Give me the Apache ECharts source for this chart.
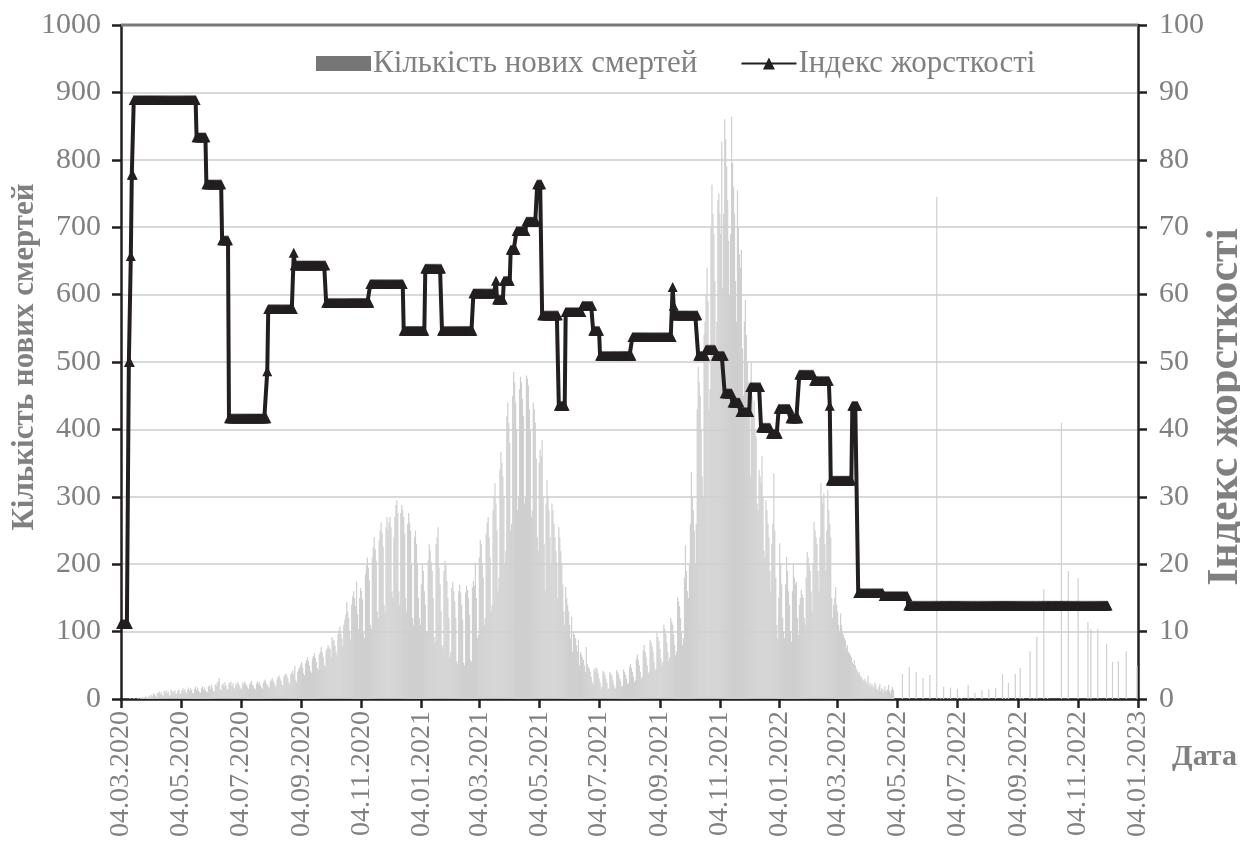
<!DOCTYPE html>
<html>
<head>
<meta charset="utf-8">
<script src="https://cdn.jsdelivr.net/npm/echarts@6/dist/echarts.min.js"></script>
<style>
  html, body { margin: 0; padding: 0; background: #ffffff; }
  #chart { width: 1240px; height: 843px; }
</style>
</head>
<body>
<div id="chart"></div>
<script>
// Daily new deaths, one line per month.
// deaths2020 starts on 2020-03-04, deaths2021 on 2021-01-01, deaths2022 on 2022-01-01 (to 2022-04-30).
const deaths2020 = [
  0,0,0,0,0,0,0,0,0,1,0,0,0,1,0,0,0,1,1,0,2,1,3,2,1,4,3,2,
  3,5,2,6,4,8,7,5,3,9,8,11,7,10,6,4,12,9,13,8,11,6,5,14,10,12,9,13,7,8,
  12,14,9,7,13,16,11,15,10,8,14,17,12,16,13,9,8,15,18,13,17,12,10,9,16,19,14,17,13,11,10,
  18,20,15,21,17,12,11,22,19,24,26,31,14,13,21,23,18,25,20,15,14,24,22,26,19,23,17,15,23,21,
  25,22,19,16,14,24,21,26,23,20,17,15,22,24,27,21,19,16,14,23,26,22,25,20,17,15,24,27,29,23,21,
  18,16,26,28,31,27,24,20,18,29,33,35,30,27,22,20,33,36,38,34,30,25,22,37,39,42,36,49,28,25,40,
  44,47,51,55,46,38,35,53,58,62,56,50,42,39,60,64,68,61,55,46,43,66,70,77,69,62,51,48,72,75,
  80,76,74,62,92,86,88,79,70,64,96,102,108,97,90,78,110,118,125,144,130,120,100,88,140,152,160,150,138,174,126,
  104,150,165,160,148,98,90,185,198,210,195,176,110,104,210,225,240,222,205,130,120,235,250,262,245,226,140,128,255,270,
  250,262,270,255,160,150,240,270,288,295,276,160,140,276,288,280,270,245,150,130,260,276,262,250,200,120,110,240,250,230,200
];
const deaths2021 = [
  150,120,110,170,200,190,160,140,98,100,205,230,220,203,190,150,92,84,230,240,255,195,170,130,80,75,190,205,198,175,150,
  120,62,70,165,174,160,145,120,56,52,160,170,158,140,118,54,50,158,168,162,150,125,58,55,166,175,168,202,
  150,90,95,210,236,230,200,180,110,120,245,262,270,240,210,130,140,280,300,320,290,250,160,180,340,367,350,330,300,200,220,
  420,440,410,380,250,260,450,485,470,440,400,280,300,460,478,470,445,420,290,300,480,476,465,430,400,270,280,440,430,410,
  357,240,220,350,370,360,384,300,230,160,290,325,300,280,240,200,290,280,260,240,220,200,150,255,240,220,200,170,130,110,166,
  150,140,130,110,90,122,70,100,95,90,80,70,88,50,70,66,62,58,50,40,77,52,48,45,40,33,25,22,45,40,
  47,44,38,30,25,15,18,42,40,36,30,24,14,16,40,38,34,28,22,15,17,43,40,36,30,26,18,20,44,40,36,
  30,22,24,48,52,46,40,33,25,28,60,66,58,50,40,30,33,72,80,70,62,50,38,40,88,84,78,70,55,42,45,
  98,92,86,74,60,50,55,110,104,97,84,70,56,62,120,115,110,96,80,65,70,151,145,138,120,100,80,90,180,228,
  190,160,150,200,260,337,300,280,250,200,260,430,493,470,450,400,330,300,540,560,600,640,590,430,460,700,763,720,690,620,500,
  560,740,750,720,690,827,610,720,860,830,790,740,680,600,690,864,795,760,720,620,560,755,700,660,640,666,520,450,560,592,
  540,500,470,420,330,499,450,420,443,400,389,290,280,340,330,320,360,300,220,210,295,280,260,240,190,160,230,260,335,250,180
];
const deaths2022 = [
  110,90,150,231,200,170,120,100,90,170,211,190,160,140,100,85,160,201,180,170,174,120,95,140,150,162,155,150,120,110,180,
  218,210,200,190,160,130,200,263,250,240,230,190,160,240,320,300,290,305,230,190,250,310,280,260,240,150,120,140,
  150,166,140,130,110,100,127,110,100,95,90,87,75,80,70,68,65,62,55,52,58,50,45,42,38,40,35,33,30,28,26,
  30,26,22,35,20,24,18,22,19,16,24,20,15,13,18,22,12,16,14,10,19,13,11,15,21,12,9,14,18,13
];

// From May 2022 deaths were published as periodic (mostly weekly) reports.
const reportDates = [
  '2022-05-09','2022-05-16','2022-05-23','2022-05-30','2022-06-06','2022-06-13','2022-06-17','2022-06-20',
  '2022-06-24','2022-06-27','2022-07-04','2022-07-08','2022-07-15','2022-07-22','2022-07-29','2022-08-05',
  '2022-08-12','2022-08-19','2022-08-22','2022-08-25','2022-09-01','2022-09-06','2022-09-09','2022-09-16',
  '2022-09-20','2022-09-23','2022-09-30','2022-10-04','2022-10-18','2022-10-25','2022-11-04','2022-11-14',
  '2022-11-17','2022-11-24','2022-12-03','2022-12-09','2022-12-15','2022-12-23','2023-01-03'
];
const reportValues = [
  37,47,40,31,36,745,2,18,
  1,17,15,2,21,9,13,15,
  16,37,2,24,37,46,2,71,
  2,92,163,2,410,190,179,114,
  104,104,82,55,56,71,49
];

// Stringency index: date of each change and the level held from that date.
const stringencyDates = [
  '2020-03-04','2020-03-12','2020-03-14','2020-03-15','2020-03-17','2020-05-20','2020-05-30','2020-06-15',
  '2020-06-22','2020-07-31','2020-08-01','2020-08-27','2020-08-28','2020-09-29','2020-11-13','2020-12-17',
  '2021-01-08','2021-01-25','2021-02-26','2021-03-21','2021-03-22','2021-03-29','2021-04-05','2021-04-11',
  '2021-04-21','2021-05-02','2021-05-07','2021-05-24','2021-05-31','2021-06-17','2021-06-28','2021-07-05',
  '2021-08-07','2021-09-17','2021-09-18','2021-09-19','2021-10-13','2021-10-21','2021-10-31','2021-11-09',
  '2021-11-17','2021-11-25','2021-12-05','2021-12-16','2021-12-26','2022-01-03','2022-01-15','2022-01-24',
  '2022-02-08','2022-02-24','2022-02-25','2022-03-19','2022-03-25','2022-04-20','2022-05-15'
];
const stringencyValues = [
  11.11,50.00,65.74,77.78,88.89,83.33,76.39,68.06,
  41.67,48.61,57.87,66.20,64.35,58.80,61.57,54.63,
  63.89,54.63,60.19,62.04,59.26,62.04,66.67,69.44,
  70.83,76.39,56.94,43.52,57.41,58.33,54.63,50.93,
  53.70,61.11,58.33,56.94,50.93,51.85,50.93,45.37,
  43.98,42.59,46.30,40.28,39.35,43.06,41.67,48.15,
  47.22,43.52,32.41,43.52,15.74,15.28,13.89
];
const stringencyLastDate = '2022-12-04';

// Date axis labels
const xTickLabels = [
  '04.03.2020','04.05.2020','04.07.2020','04.09.2020','04.11.2020','04.01.2021','04.03.2021','04.05.2021',
  '04.07.2021','04.09.2021','04.11.2021','04.01.2022','04.03.2022','04.05.2022','04.07.2022','04.09.2022',
  '04.11.2022','04.01.2023'
];

const DAY = 86400000;
const ORIGIN = Date.UTC(2020, 2, 4);
function isoToDay(s) {
  const [y, m, d] = s.split('-').map(Number);
  return Math.round((Date.UTC(y, m - 1, d) - ORIGIN) / DAY);
}
function dmyToDay(s) {
  const [d, m, y] = s.split('.').map(Number);
  return Math.round((Date.UTC(y, m - 1, d) - ORIGIN) / DAY);
}

// Bars
const barData = [];
function pushDaily(arr, startIso) {
  const s = isoToDay(startIso);
  arr.forEach((v, i) => { if (v > 0) barData.push([s + i, v]); });
}
pushDaily(deaths2020, '2020-03-04');
pushDaily(deaths2021, '2021-01-01');
pushDaily(deaths2022, '2022-01-01');
reportDates.forEach((d, i) => barData.push([isoToDay(d), reportValues[i]]));

// Daily stringency points: each level is held until the next change
const lineData = [];
const lastDay = isoToDay(stringencyLastDate);
for (let k = 0; k < stringencyDates.length; k++) {
  const from = isoToDay(stringencyDates[k]);
  const to = k + 1 < stringencyDates.length ? isoToDay(stringencyDates[k + 1]) - 1 : lastDay;
  for (let d = from; d <= to; d++) lineData.push([d, stringencyValues[k]]);
}

const tickDays = xTickLabels.map(dmyToDay);
const labelByDay = {};
xTickLabels.forEach((t, i) => { labelByDay[tickDays[i]] = t; });

const FONT = "'Liberation Serif', 'Times New Roman', serif";
const GREY = '#808080';
const DARK = '#231f20';

const PLOT = { left: 121, right: 102, top: 25, bottom: 144 };

const chart = echarts.init(document.getElementById('chart'), null, { renderer: 'canvas' });
chart.setOption({
  animation: false,
  backgroundColor: '#ffffff',
  grid: { left: PLOT.left, right: PLOT.right, top: PLOT.top, bottom: PLOT.bottom, outerBoundsMode: 'none' },
  legend: {
    left: 311, top: 43,
    itemWidth: 55, itemHeight: 15, itemGap: 43,
    textStyle: { fontFamily: FONT, fontSize: 31, color: GREY, padding: [0, 0, 0, -3] },
    data: [
      { name: 'Кількість нових смертей', icon: 'rect', itemStyle: { color: '#767676' } },
      { name: 'Індекс жорсткості' }
    ]
  },
  xAxis: {
    type: 'value', min: 0, max: tickDays[tickDays.length - 1],
    axisLine: { show: true, lineStyle: { color: DARK, width: 2.5 } },
    axisTick: { show: true, customValues: tickDays, length: 9, lineStyle: { color: DARK, width: 2.5 } },
    axisLabel: {
      customValues: tickDays, rotate: 90, margin: 12,
      fontFamily: FONT, fontSize: 28, color: GREY,
      formatter: v => labelByDay[v] || ''
    },
    splitLine: { show: false }
  },
  yAxis: [
    {
      type: 'value', min: 0, max: 1000, interval: 100, position: 'left',
      axisLine: { show: true, lineStyle: { color: DARK, width: 2.5 } },
      axisTick: { show: true, length: 9, lineStyle: { color: DARK, width: 2.5 } },
      axisLabel: { margin: 20, fontFamily: FONT, fontSize: 30, color: GREY, formatter: v => String(v) },
      splitLine: { show: true, lineStyle: { color: '#d9d9d9', width: 2 } }
    },
    {
      type: 'value', min: 0, max: 100, interval: 10, position: 'right',
      axisLine: { show: true, lineStyle: { color: DARK, width: 2.5 } },
      axisTick: { show: true, length: 9, lineStyle: { color: DARK, width: 2.5 } },
      axisLabel: { margin: 21, fontFamily: FONT, fontSize: 30, color: GREY },
      splitLine: { show: false }
    }
  ],
  graphic: [
    {
      // top frame edge of the plot area
      type: 'line', z: 10,
      shape: { x1: PLOT.left, y1: PLOT.top, x2: 1240 - PLOT.right, y2: PLOT.top },
      style: { stroke: '#7a7a7a', lineWidth: 3 }
    },
    {
      type: 'text', x: 25, y: 357, rotation: Math.PI / 2,
      style: {
        text: 'Кількість нових смертей', fontFamily: FONT, fontSize: 31, fontWeight: 'bold', fill: GREY,
        align: 'center', verticalAlign: 'middle'
      }
    },
    {
      type: 'text', x: 1226, y: 407, rotation: Math.PI / 2,
      style: {
        text: 'Індекс жорсткості', fontFamily: FONT, fontSize: 44, fontWeight: 'bold', fill: GREY,
        align: 'center', verticalAlign: 'middle'
      }
    },
    {
      type: 'text', left: 1172, top: 742,
      style: { text: 'Дата', fontFamily: FONT, fontSize: 30, fontWeight: 'bold', fill: GREY }
    }
  ],
  series: [
    {
      name: 'Кількість нових смертей', type: 'bar',
      xAxisIndex: 0, yAxisIndex: 0,
      data: barData, barWidth: 1.2,
      itemStyle: { color: '#cfcfcf' },
      emphasis: { disabled: true }, z: 1
    },
    {
      name: 'Індекс жорсткості', type: 'line',
      xAxisIndex: 0, yAxisIndex: 1,
      data: lineData,
      showAllSymbol: true, symbol: 'triangle', symbolSize: 10,
      lineStyle: { color: DARK, width: 4 },
      itemStyle: { color: DARK },
      emphasis: { disabled: true }, z: 5
    }
  ]
});
</script>
</body>
</html>
